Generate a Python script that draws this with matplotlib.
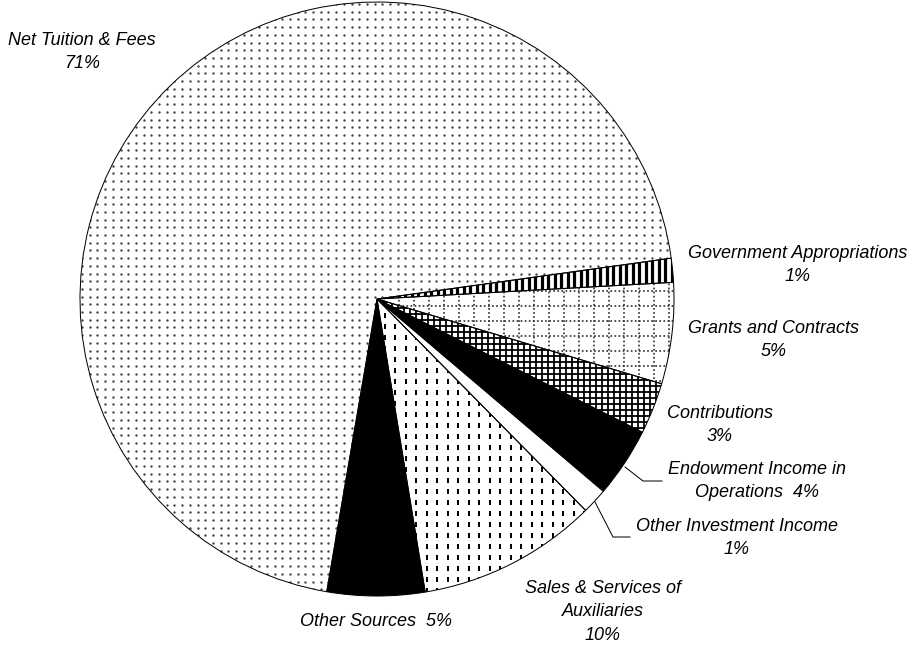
import numpy as np
import matplotlib
matplotlib.use("Agg")
import matplotlib.pyplot as plt
from matplotlib.patches import Wedge
from matplotlib.collections import LineCollection

# Fatias (sentido horario a partir de Government Appropriations)
names = ['Government Appropriations', 'Grants and Contracts', 'Contributions',
         'Endowment Income in\nOperations', 'Other Investment Income',
         'Sales & Services of\nAuxiliaries', 'Other Sources', 'Net Tuition & Fees']
shares = [1.3, 5.5, 2.8, 3.8, 1.4, 9.8, 5.3, 70.1]
pct_labels = ['1%', '5%', '3%', '4%', '1%', '10%', '5%', '71%']
separators = ['\n', '\n', '\n', '  ', '\n', '\n', '  ', '\n']

# Layout em pixels (origem no topo esquerdo)
W, H = 914, 645
CX, CY, R = 377, 299, 297
label_pos = [(798, 265), (774, 340), (720, 425), (757, 481), (737, 538),
             (603, 612), (376, 622), (82, 52)]
leaders = {3: [(625, 467), (643, 481), (662, 481)],
           4: [(595, 502), (613, 537), (630, 537)]}

fig = plt.figure(figsize=(W / 100, H / 100), dpi=100)
ax = fig.add_axes([0, 0, 1, 1])

wedges, _ = ax.pie(shares, center=(CX, CY), radius=R, startangle=-7.9,
                   counterclock=True, colors=['white'] * len(shares),
                   wedgeprops=dict(linewidth=0, zorder=1))
ax.set_xlim(0, W)
ax.set_ylim(H, 0)
ax.set_aspect('equal')
ax.axis('off')

px = 0.72  # 1 pixel em pontos


def grid(step, offset=0.0):
    v = np.arange(CX - R - step + offset, CX + R + step, step)
    h = np.arange(CY - R - step + offset, CY + R + step, step)
    return v, h


def clip_lines(segs, wedge, **kw):
    lc = LineCollection(segs, zorder=2, **kw)
    ax.add_collection(lc)
    lc.set_clip_path(wedge)


# Government Appropriations: listras verticais
v, _ = grid(6.5)
clip_lines([[(x, CY - R), (x, CY + R)] for x in v], wedges[0],
           colors='black', linewidths=3.2 * px)

# Grants and Contracts: grade pontilhada
v, h = grid(15, 4)
segs = [[(x, CY - R), (x, CY + R)] for x in v] + [[(CX - R, y), (CX + R, y)] for y in h]
clip_lines(segs, wedges[1], colors='#333333', linewidths=1.7 * px, linestyles=(0, (1, 1.4)))

# Contributions: grade densa
v, h = grid(6)
segs = [[(x, CY - R), (x, CY + R)] for x in v] + [[(CX - R, y), (CX + R, y)] for y in h]
clip_lines(segs, wedges[2], colors='black', linewidths=1.8 * px)

# Endowment e Other Sources: preto solido
wedges[3].set_facecolor('black')
wedges[6].set_facecolor('black')

# Sales & Services: tracos verticais curtos
v, _ = grid(10.5)
_, h = grid(11, 3)
segs = [[(x, y), (x, y + 5)] for x in v for y in h]
clip_lines(segs, wedges[5], colors='black', linewidths=2.0 * px)

# Net Tuition: pontos cinza
v, h = grid(7.7, 2)
gx, gy = np.meshgrid(v, h)
sc = ax.scatter(gx.ravel(), gy.ravel(), s=3.0, color='#444444', linewidths=0, zorder=2)
sc.set_clip_path(wedges[7])

# Contornos das fatias
for w in wedges:
    ax.add_patch(Wedge(w.center, w.r, w.theta1, w.theta2, fill=False,
                       edgecolor='black', linewidth=1.0 * px, zorder=3))

# Rotulos
for i, (name, pct, sep) in enumerate(zip(names, pct_labels, separators)):
    x, y = label_pos[i]
    ax.text(x, y, name + sep + pct, ha='center', va='center', multialignment='center',
            fontsize=13, fontstyle='italic', family='Liberation Sans', linespacing=1.52)

for i, pts in leaders.items():
    xs, ys = zip(*pts)
    ax.plot(xs, ys, color='black', linewidth=1.0 * px, zorder=4)

fig.savefig('out.png', dpi=100)
